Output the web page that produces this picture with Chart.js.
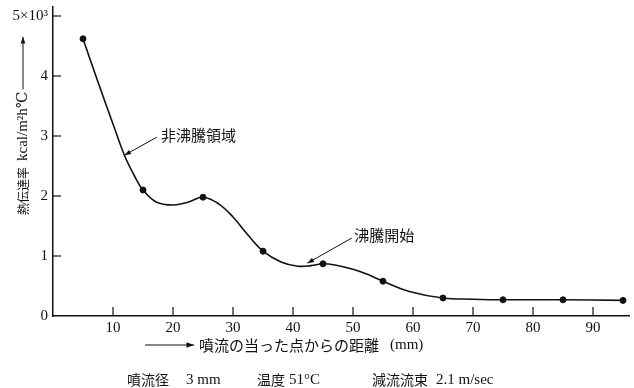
<!DOCTYPE html>
<html>
<head>
<meta charset="utf-8">
<script src="https://cdn.jsdelivr.net/npm/chart.js@4"></script>
<style>
  body { margin: 0; background: #fff; }
  #wrap { width: 634px; height: 388px; }
</style>
</head>
<body>
<div id="wrap"><canvas id="heatChart"></canvas></div>
<script>
// measured points (distance mm, heat transfer coefficient x10^3 kcal/m2h°C)
const pointX = [5, 15, 25, 35, 45, 55, 65, 75, 85, 95];
const pointY = [4.62, 2.1, 1.98, 1.08, 0.87, 0.58, 0.30, 0.27, 0.27, 0.26];

// the hand drawn curve
const curveX = [5, 7.5, 10, 11.9, 13.5, 15, 17.2, 20, 22.6, 25, 27.6, 30, 32.5, 35, 38, 40.8, 43, 45, 47, 50, 52.5, 55, 59.4, 65, 70, 75, 85, 95];
const curveY = [4.62, 3.9, 3.2, 2.68, 2.35, 2.1, 1.9, 1.85, 1.9, 1.98, 1.87, 1.65, 1.35, 1.08, 0.9, 0.83, 0.84, 0.87, 0.85, 0.78, 0.69, 0.58, 0.41, 0.30, 0.28, 0.27, 0.27, 0.26];

const xTicks = [10, 20, 30, 40, 50, 60, 70, 80, 90];
const yTicks = [0, 1, 2, 3, 4, 5];

const serif = "'Liberation Serif', 'DejaVu Serif', serif";
const jp = "'Noto Sans CJK JP', sans-serif";

function arrow(ctx, x1, y1, x2, y2, head) {
    ctx.beginPath();
    ctx.moveTo(x1, y1);
    ctx.lineTo(x2, y2);
    ctx.stroke();
    const a = Math.atan2(y2 - y1, x2 - x1);
    ctx.beginPath();
    ctx.moveTo(x2, y2);
    ctx.lineTo(x2 - head * Math.cos(a - 0.35), y2 - head * Math.sin(a - 0.35));
    ctx.lineTo(x2 - head * Math.cos(a + 0.35), y2 - head * Math.sin(a + 0.35));
    ctx.closePath();
    ctx.fill();
}

const extras = {
    id: 'extras',
    afterDraw(chart) {
        const ctx = chart.ctx;
        const xs = chart.scales.x, ys = chart.scales.y;
        const area = chart.chartArea;
        ctx.save();
        ctx.strokeStyle = '#111';
        ctx.fillStyle = '#111';
        ctx.lineWidth = 1.2;

        // inward tick marks
        yTicks.forEach(v => {
            const py = ys.getPixelForValue(v);
            if (v === 0) return;
            ctx.beginPath();
            ctx.moveTo(area.left, py);
            ctx.lineTo(area.left + 8, py);
            ctx.stroke();
        });
        xTicks.forEach(v => {
            const px = xs.getPixelForValue(v);
            ctx.beginPath();
            ctx.moveTo(px, area.bottom);
            ctx.lineTo(px, area.bottom - 9);
            ctx.stroke();
        });

        // annotations
        ctx.lineWidth = 1;
        ctx.font = '15px ' + jp;
        ctx.textBaseline = 'middle';
        ctx.textAlign = 'left';
        ctx.fillText('非沸騰領域', xs.getPixelForValue(18), ys.getPixelForValue(3.02));
        arrow(ctx, xs.getPixelForValue(17.3), ys.getPixelForValue(2.98),
              xs.getPixelForValue(11.9), ys.getPixelForValue(2.68), 7);
        ctx.fillText('沸騰開始', xs.getPixelForValue(50.2), ys.getPixelForValue(1.35));
        arrow(ctx, xs.getPixelForValue(49.8), ys.getPixelForValue(1.3),
              xs.getPixelForValue(42.4), ys.getPixelForValue(0.88), 7);

        // y axis title (rotated)
        ctx.save();
        ctx.translate(23, 215);
        ctx.rotate(-Math.PI / 2);
        ctx.font = '12px ' + jp;
        ctx.fillText('熱伝達率', 0, 0);
        let pos = ctx.measureText('熱伝達率').width + 6;
        ctx.font = '15px ' + serif;
        ctx.fillText('kcal/m²h℃', pos, 0);
        pos += ctx.measureText('kcal/m²h℃').width + 2;
        arrow(ctx, pos, 0, 178, 0, 7);
        ctx.restore();

        // x axis title
        arrow(ctx, 145, 345, 194, 345, 8);
        ctx.font = '15px ' + jp;
        ctx.fillText('噴流の当った点からの距離', 199, 345);
        ctx.font = '15px ' + serif;
        ctx.fillText('(mm)', 390, 345);

        // caption
        ctx.font = '14px ' + jp;
        ctx.fillText('噴流径', 127, 380);
        ctx.fillText('温度', 257, 380);
        ctx.fillText('減流流束', 372, 380);
        ctx.font = '15px ' + serif;
        ctx.fillText('3 mm', 186, 380);
        ctx.fillText('51°C', 289, 380);
        ctx.fillText('2.1 m/sec', 436, 380);

        ctx.restore();
    }
};

new Chart(document.getElementById('heatChart').getContext('2d'), {
    type: 'line',
    data: {
        datasets: [
            {
                label: 'curve',
                data: curveX.map((x, i) => ({ x: x, y: curveY[i] })),
                borderColor: '#111',
                borderWidth: 1.6,
                pointRadius: 0,
                tension: 0.4,
                fill: false
            },
            {
                type: 'scatter',
                label: 'measured',
                data: pointX.map((x, i) => ({ x: x, y: pointY[i] })),
                backgroundColor: '#111',
                borderColor: '#111',
                pointRadius: 3,
                showLine: false
            }
        ]
    },
    options: {
        responsive: true,
        maintainAspectRatio: false,
        animation: false,
        layout: { padding: { top: 7, right: 0, left: 0, bottom: 0 } },
        plugins: {
            legend: { display: false },
            tooltip: { enabled: false }
        },
        scales: {
            x: {
                type: 'linear',
                min: 0,
                max: 96,
                grid: { display: false, drawTicks: false },
                border: { display: true, color: '#111', width: 1.5 },
                afterFit: s => { s.height = 72; s.paddingLeft = 0; s.paddingRight = 0; },
                ticks: {
                    stepSize: 10,
                    includeBounds: false,
                    padding: 3,
                    color: '#111',
                    font: { family: serif, size: 15 },
                    maxRotation: 0,
                    callback: v => (v === 0 ? '' : v)
                }
            },
            y: {
                min: 0,
                max: 5.15,
                grid: { display: false, drawTicks: false },
                border: { display: true, color: '#111', width: 1.5 },
                afterFit: s => { s.width = 53; s.paddingTop = 0; s.paddingBottom = 0; },
                ticks: {
                    stepSize: 1,
                    includeBounds: false,
                    padding: 5,
                    color: '#111',
                    font: { family: serif, size: 15 },
                    callback: v => (v === 5 ? '5×10³' : v)
                }
            }
        }
    },
    plugins: [extras]
});
</script>
</body>
</html>
